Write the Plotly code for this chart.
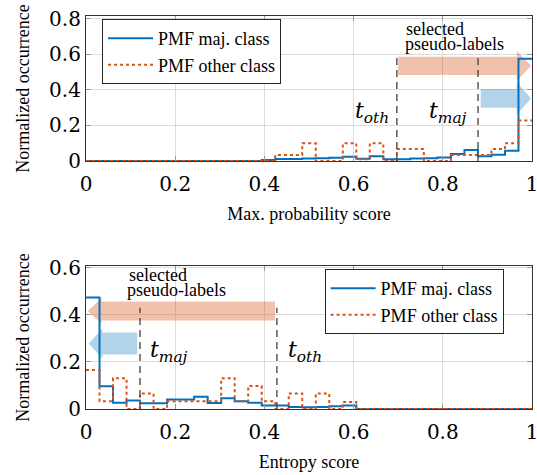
import numpy as np
import plotly.graph_objects as go

# ---------------- data ----------------
n_bins = 33
bin_edges = np.linspace(0, 1, n_bins + 1)

maxprob_maj = [0, 0, 0, 0, 0, 0, 0, 0, 0, 0, 0, 0, 0,
               0.006, 0.011, 0.011, 0.014, 0.016, 0.019, 0.024, 0.013, 0.027,
               0.010, 0.010, 0.014, 0.015, 0.020, 0.040, 0.062, 0.027, 0.035,
               0.058, 0.575]
maxprob_oth = [0, 0, 0, 0, 0, 0, 0, 0, 0, 0, 0, 0, 0, 0,
               0.034, 0.034, 0.100, 0.0, 0.0, 0.100, 0.010, 0.100, 0.0,
               0.067, 0.067, 0.0, 0.0, 0.034, 0.034, 0.034, 0.067, 0.100, 0.228]
entropy_maj = [0.473, 0.097, 0.027, 0.036, 0.024, 0.024, 0.040, 0.040, 0.052,
               0.025, 0.046, 0.033, 0.027, 0.015, 0.015, 0.008, 0.007, 0.008,
               0.012, 0.015, 0, 0, 0, 0, 0, 0, 0, 0, 0, 0, 0, 0, 0]
entropy_oth = [0.165, 0.033, 0.130, 0.0, 0.066, 0.0, 0.033, 0.033, 0.033,
               0.033, 0.130, 0.033, 0.098, 0.033, 0.0, 0.066, 0.0, 0.066,
               0.0, 0.030, 0, 0, 0, 0, 0, 0, 0, 0, 0, 0, 0, 0, 0]

maxprob_t_oth, maxprob_t_maj = 0.697, 0.879
entropy_t_maj, entropy_t_oth = 0.121, 0.428

x_ticks = [0, 0.2, 0.4, 0.6, 0.8, 1]
x_ticklabels = ["0", "0.2", "0.4", "0.6", "0.8", "1"]
y_ticks_top = [0, 0.2, 0.4, 0.6, 0.8]
y_ticklabels_top = ["0", "0.2", "0.4", "0.6", "0.8"]
y_ticks_bot = [0, 0.2, 0.4, 0.6]
y_ticklabels_bot = ["0", "0.2", "0.4", "0.6"]

BLUE = "#0072BD"
ORANGE = "#D95319"
TEXT_FONT = "Liberation Serif"
MATH_FONT = "DejaVu Serif"

fig = go.Figure()


def step_xy(vals):
    return list(bin_edges), list(vals) + [vals[-1]]


def add_pair(maj, oth, xa, ya, legend):
    x, y = step_xy(maj)
    fig.add_trace(go.Scatter(x=x, y=y, mode="lines", line_shape="hv",
                             line=dict(color=BLUE, width=2),
                             name="PMF maj. class", xaxis=xa, yaxis=ya,
                             legend=legend))
    x, y = step_xy(oth)
    fig.add_trace(go.Scatter(x=x, y=y, mode="lines", line_shape="hv",
                             line=dict(color=ORANGE, width=2, dash="dot"),
                             name="PMF other class", xaxis=xa, yaxis=ya,
                             legend=legend))


add_pair(maxprob_maj, maxprob_oth, "x", "y", "legend")
add_pair(entropy_maj, entropy_oth, "x2", "y2", "legend2")

shapes = []
annotations = []


def arrow(xref, yref, x_tail, x_base, x_tip, yc, bh, hh, color):
    pts = [(x_tail, yc - bh / 2), (x_base, yc - bh / 2), (x_base, yc - hh / 2),
           (x_tip, yc), (x_base, yc + hh / 2), (x_base, yc + bh / 2),
           (x_tail, yc + bh / 2)]
    path = "M " + " L ".join(f"{px},{py}" for px, py in pts) + " Z"
    shapes.append(dict(type="path", path=path, xref=xref, yref=yref,
                       fillcolor=color, line=dict(width=0), layer="between"))


def vdash(xref, yref, xv, ytop):
    shapes.append(dict(type="line", xref=xref, yref=yref, x0=xv, x1=xv,
                       y0=0, y1=ytop, line=dict(color="#404040", width=1.3,
                                                dash="7px,5px")))


SALMON = "rgba(217,83,25,0.36)"
LBLUE = "rgba(0,114,189,0.30)"

# top panel
arrow("x", "y", maxprob_t_oth + 0.003, 0.966, 0.998, 0.535, 0.103, 0.168, SALMON)
arrow("x", "y", maxprob_t_maj + 0.006, 0.966, 0.998, 0.352, 0.106, 0.18, LBLUE)
vdash("x", "y", maxprob_t_oth, 0.585)
vdash("x", "y", maxprob_t_maj, 0.585)
# bottom panel
arrow("x2", "y2", entropy_t_oth - 0.004, 0.035, 0.004, 0.416, 0.08, 0.11, SALMON)
arrow("x2", "y2", entropy_t_maj - 0.006, 0.037, 0.006, 0.278, 0.093, 0.127, LBLUE)
vdash("x2", "y2", entropy_t_maj, 0.43)
vdash("x2", "y2", entropy_t_oth, 0.43)


def label(xref, yref, x, y, text, font, size, xanchor="center"):
    annotations.append(dict(xref=xref, yref=yref, x=x, y=y, text=text,
                            showarrow=False, xanchor=xanchor, yanchor="middle",
                            font=dict(family=font, size=size, color="black")))


T_OTH = "<i>t</i><sub><i>oth</i></sub>"
T_MAJ = "<i>t</i><sub><i>maj</i></sub>"
label("x", "y", maxprob_t_oth - 0.055, 0.27, T_OTH, MATH_FONT, 22)
label("x", "y", maxprob_t_maj - 0.067, 0.27, T_MAJ, MATH_FONT, 22)
label("x", "y", 0.713, 0.74, "selected", TEXT_FONT, 18, "left")
label("x", "y", 0.711, 0.655, "pseudo-labels", TEXT_FONT, 18, "left")
label("x2", "y2", entropy_t_maj + 0.066, 0.245, T_MAJ, MATH_FONT, 22)
label("x2", "y2", entropy_t_oth + 0.062, 0.245, T_OTH, MATH_FONT, 22)
label("x2", "y2", 0.091, 0.568, "selected", TEXT_FONT, 18, "left")
label("x2", "y2", 0.087, 0.505, "pseudo-labels", TEXT_FONT, 18, "left")

axis_common = dict(showgrid=True, gridcolor="#dcdcdc", gridwidth=1,
                   zeroline=False, showline=True, linecolor="#333333",
                   linewidth=1.2, mirror="ticks", ticks="inside", ticklen=5,
                   tickcolor="#999999", automargin=False,
                   ticklabeloverflow="allow",
                   tickfont=dict(family=MATH_FONT, size=20, color="black"))
x_extra = dict(ticklabelstandoff=5)

legend_common = dict(xanchor="left", yanchor="top", bgcolor="white",
                     bordercolor="#262626", borderwidth=1, tracegroupgap=0,
                     itemwidth=45,
                     font=dict(family=TEXT_FONT, size=18, color="black"))

title_font = dict(family=TEXT_FONT, size=18, color="black")

fig.update_layout(
    width=537, height=475,
    margin=dict(l=86, r=5, t=16, b=66),
    plot_bgcolor="white", paper_bgcolor="white",
    font=dict(family=TEXT_FONT, color="black"),
    showlegend=True,
    xaxis=dict(domain=[0, 1], range=[0, 1], anchor="y", tickvals=x_ticks,
               ticktext=x_ticklabels,
               title=dict(text="Max. probability score", standoff=12,
                          font=title_font),
               **axis_common, **x_extra),
    yaxis=dict(domain=[0.631, 1], range=[0, 0.815], anchor="x",
               tickvals=y_ticks_top, ticktext=y_ticklabels_top,
               title=dict(text="Normalized occurrence", standoff=14,
                          font=title_font),
               **axis_common),
    xaxis2=dict(domain=[0, 1], range=[0, 1], anchor="y2", tickvals=x_ticks,
                ticktext=x_ticklabels,
                title=dict(text="Entropy score", standoff=12,
                           font=title_font),
                **axis_common, **x_extra),
    yaxis2=dict(domain=[0, 0.364], range=[0, 0.607], anchor="x2",
                tickvals=y_ticks_bot, ticktext=y_ticklabels_bot,
                title=dict(text="Normalized occurrence", standoff=14,
                           font=title_font),
                **axis_common),
    legend=dict(x=0.036, y=0.992, **legend_common),
    legend2=dict(x=0.535, y=0.356, **legend_common),
    shapes=shapes,
    annotations=annotations,
)

fig.write_html("out.html",
               config={"displayModeBar": False},
               post_script="document.body.style.margin='0';"
                           "document.body.style.overflow='hidden';")
